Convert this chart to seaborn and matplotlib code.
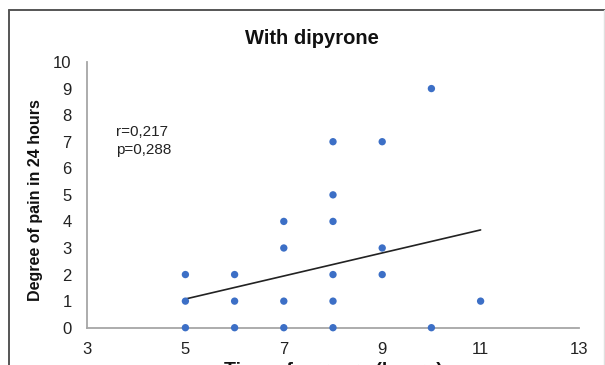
import matplotlib
matplotlib.use("Agg")
import matplotlib.pyplot as plt
import seaborn as sns
import pandas as pd
from matplotlib.lines import Line2D

# Data
time_x = [5, 5, 5, 6, 6, 6, 7, 7, 7, 7, 8, 8, 8, 8, 8, 8, 9, 9, 9, 10, 10, 11]
pain_y = [0, 1, 2, 0, 1, 2, 0, 1, 3, 4, 0, 1, 2, 4, 5, 7, 2, 3, 7, 0, 9, 1]
trend_x = [5, 11]
trend_y = [1.08, 3.68]
x_ticks = [3, 5, 7, 9, 11, 13]
y_ticks = [0, 1, 2, 3, 4, 5, 6, 7, 8, 9, 10]

df = pd.DataFrame({"time": time_x, "pain": pain_y})
df_trend = pd.DataFrame({"time": trend_x, "pain": trend_y})

sns.set_style("white")
plt.rcParams["font.family"] = ["Liberation Sans", "DejaVu Sans"]

fig = plt.figure(figsize=(6.05, 3.65), dpi=100)
ax = fig.add_axes([87 / 605, 1 - 327.7 / 365, 492 / 605, 265.7 / 365])

#Scatter points
sns.scatterplot(data=df, x="time", y="pain", color="#3C6FC6", s=28,
                edgecolor="none", ax=ax, zorder=3, clip_on=False)

#Trend line
sns.lineplot(data=df_trend, x="time", y="pain", color="#222222", lw=1.2,
             ax=ax, zorder=2)

ax.set_xlim(3, 13)
ax.set_ylim(0, 10)
ax.set_xticks(x_ticks)
ax.set_yticks(y_ticks)

#Spines and ticks
for side in ["top", "right"]:
    ax.spines[side].set_visible(False)
for side in ["left", "bottom"]:
    ax.spines[side].set_color("#a6a6a6")
    ax.spines[side].set_linewidth(1.3)
ax.tick_params(axis="both", direction="in", length=4, width=1, color="#a6a6a6",
               labelsize=12, labelcolor="#222222")
ax.tick_params(axis="x", pad=10)
ax.tick_params(axis="y", pad=11)

#Labels
ax.set_ylabel("Degree of pain in 24 hours", fontsize=11.5, fontweight="bold",
              color="#111111")
ax.yaxis.set_label_coords(-0.089, 0.48)
ax.set_xlabel("Time of surgery (hours)", fontsize=14, fontweight="bold",
              color="#111111", va="top")
ax.xaxis.set_label_coords(0.5, -0.128)

#Correlation text
ax.text(3.59, 7.62, "r=0,217\np=0,288", fontsize=11, va="top", ha="left",
        linespacing=1.3, color="#222222")

#Title
fig.text(312 / 605, 1 - 39 / 365, "With dipyrone", fontsize=14.5,
         fontweight="bold", ha="center", va="center", color="#111111")

#Outer frame
fig.add_artist(Line2D([9 / 605, 9 / 605], [-0.05, 1 - 10 / 365],
                      transform=fig.transFigure, color="#555555", lw=1.4))
fig.add_artist(Line2D([9 / 605, 1.01], [1 - 10 / 365, 1 - 10 / 365],
                      transform=fig.transFigure, color="#555555", lw=1.4))
fig.add_artist(Line2D([604 / 605, 604 / 605], [-0.05, 1 - 10 / 365],
                      transform=fig.transFigure, color="#e0e0e0", lw=1.0))

fig.savefig("out.png", dpi=100)
